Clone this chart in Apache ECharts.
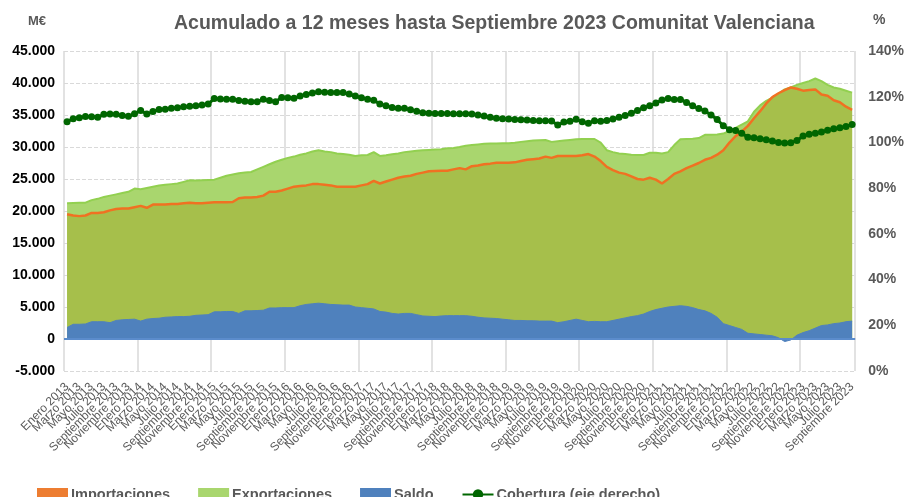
<!DOCTYPE html>
<html>
<head>
<meta charset="utf-8">
<script src="https://cdn.jsdelivr.net/npm/echarts@6/dist/echarts.min.js"></script>
<style>
  html, body { margin: 0; padding: 0; background: #fff; }
  #main { width: 907px; height: 497px; }
</style>
</head>
<body>
<div id="main"></div>
<script>
// meses y años del eje X
const meses = ["Enero", "Febrero", "Marzo", "Abril", "Mayo", "Junio", "Julio", "Agosto", "Septiembre", "Octubre", "Noviembre", "Diciembre"];
const anios = [2013, 2014, 2015, 2016, 2017, 2018, 2019, 2020, 2021, 2022, 2023];
const ultimoMes = 9; // Septiembre 2023

// M€, acumulado 12 meses
const exportaciones = [
  21200, 21250, 21300, 21300, 21700, 21900, 22200, 22400, 22600, 22800, 23000, 23500,
  23400, 23600, 23800, 24000, 24100, 24200, 24300, 24550, 24800, 24750, 24800, 24850,
  24900, 25200, 25500, 25700, 25900, 26000, 26100, 26500, 26900, 27300, 27700, 28000,
  28300, 28500, 28800, 29000, 29300, 29500, 29300, 29200, 29000, 28900, 28800, 28600,
  28700, 28750, 29200, 28600, 28700, 28850, 29000, 29200, 29300, 29400, 29500, 29550,
  29600, 29650, 29800, 29850, 30000, 30200, 30300, 30400, 30500, 30550, 30550, 30600,
  30600, 30650, 30800, 30900, 31000, 31050, 31100, 30800, 30900, 31000, 31100, 31200,
  31250, 31250, 31250, 30700, 29500, 29200, 29000, 28900, 28800, 28750, 28750, 29100,
  29100, 29000, 29200, 30300, 31200, 31250, 31300, 31400, 31900, 31900, 31950, 32100,
  32500, 33000, 33500, 34000, 35500, 36500, 37200, 37700, 38300, 39000, 39300, 39700,
  40000, 40300, 40700, 40300, 39700, 39300, 39100, 38800, 38500
];
const importaciones = [
  19500, 19300, 19200, 19300, 19700, 19700, 19800, 20100, 20300, 20400, 20400, 20600,
  20800, 20500, 21000, 21000, 21000, 21100, 21100, 21200, 21300, 21200, 21200, 21300,
  21350, 21350, 21350, 21400, 22000, 22100, 22100, 22200, 22400, 23000, 23000, 23200,
  23500, 23800, 23900, 24000, 24200, 24200, 24100, 24000, 23800, 23800, 23800, 23800,
  24000, 24200, 24700, 24300, 24600, 24900, 25200, 25400, 25500, 25800, 26000, 26200,
  26250, 26300, 26300, 26500, 26700, 26500, 27000, 27100, 27300, 27400, 27550, 27550,
  27550, 27600, 27800, 28000, 28100, 28200, 28500, 28300, 28600, 28600, 28600, 28600,
  28700, 28900, 28500, 27800, 26900, 26400, 26000, 25800, 25400, 25000, 24900, 25200,
  24900, 24300, 25000, 25800, 26200, 26700, 27100, 27500, 28000, 28300, 28800, 29500,
  30700, 31700, 32400, 33300, 34500, 35600, 36800, 37800, 38400, 38900, 39300, 39100,
  38800, 38900, 39000, 38200, 38000, 37300, 37000, 36300, 35800
];
const saldo = [
  1800, 2300, 2300, 2350, 2700, 2700, 2700, 2550, 2900, 3000, 3050, 3100,
  2800, 3100, 3200, 3250, 3400, 3450, 3500, 3500, 3550, 3700, 3750, 3800,
  4250, 4250, 4300, 4300, 4000, 4400, 4400, 4450, 4500, 4850, 4850, 4900,
  4900, 4900, 5200, 5400, 5500, 5600, 5500, 5400, 5350, 5300, 5300, 5000,
  4900, 4800, 4700, 4300, 4200, 4000, 3900, 4000, 4000, 3800, 3600, 3550,
  3500, 3600, 3650, 3650, 3650, 3650, 3550, 3400, 3300, 3250, 3200, 3100,
  3000, 2900, 2900, 2850, 2850, 2800, 2800, 2800, 2550, 2700, 2900, 3100,
  2900, 2700, 2750, 2700, 2700, 2900, 3100, 3300, 3500, 3650, 3900, 4300,
  4600, 4800, 5000, 5100, 5200, 5100, 4900, 4600, 4400, 4000, 3400, 2400,
  2100, 1800, 1500, 900, 800, 700, 600, 500, 200, -400, -150, 600,
  1000, 1300, 1700, 2100, 2200, 2400, 2500, 2700, 2800
];
// %, eje derecho
const cobertura = [
  109.1, 110.4, 110.8, 111.3, 111.2, 111.0, 112.3, 112.4, 112.3, 111.8, 111.5, 112.5,
  114.0, 112.4, 113.5, 114.4, 114.5, 114.9, 115.2, 115.6, 115.8, 116.0, 116.4, 116.8,
  119.2, 119.0, 118.9, 118.9, 118.3, 118.0, 117.8, 117.8, 118.9, 118.3, 117.8, 119.7,
  119.5, 119.3, 120.3, 121.0, 121.6, 122.2, 122.0, 121.8, 121.8, 121.8, 121.2, 120.3,
  119.6, 118.9, 118.5, 116.8, 116.0, 115.3, 115.0, 114.9, 114.3, 113.6, 113.0, 112.8,
  112.7, 112.7, 112.7, 112.6, 112.5, 112.5, 112.4, 112.0, 111.6, 111.0, 110.6, 110.4,
  110.2, 110.0, 109.9, 109.8, 109.6, 109.5, 109.5, 109.4, 107.6, 108.9, 109.3, 110.1,
  109.0, 108.4, 109.5, 109.3, 109.6, 110.3, 111.0, 111.8, 112.8, 114.0, 115.2, 116.0,
  117.2, 118.6, 119.2, 118.8, 118.8, 117.5, 116.0, 114.8, 113.8, 112.0, 110.0, 107.3,
  105.6, 105.2, 104.0, 102.3, 102.0, 101.6, 101.2, 100.6, 100.0, 99.7, 99.9, 100.8,
  102.8, 103.6, 104.0, 104.6, 105.3, 106.0, 106.4, 107.0, 107.8
];

let categorias = [];
anios.forEach((a) => {
    meses.forEach((m, i) => {
        if (a < 2023 || i < ultimoMes) categorias.push(m + " " + a);
    });
});

const FONT = "'Liberation Sans', Arial, sans-serif";
const GRIS = "#595959";

function miles(v) {
    let s = Math.abs(v).toString().replace(/\B(?=(\d{3})+(?!\d))/g, ".");
    return (v < 0 ? "-" : "") + s;
}

let chart = echarts.init(document.getElementById("main"));
let option = {
    animation: false,
    title: {
        text: "Acumulado a 12 meses hasta Septiembre 2023 Comunitat Valenciana",
        left: 169,
        top: 9,
        textStyle: {fontFamily: FONT, fontSize: 19.5, fontWeight: "bold", color: GRIS}
    },
    graphic: [
        {type: "text", left: 28, top: 15, style: {text: "M€", font: "bold 13px " + FONT, fill: GRIS}},
        {type: "text", left: 873, top: 13, style: {text: "%", font: "bold 14px " + FONT, fill: GRIS}}
    ],
    grid: {left: 64, right: 47, top: 51, bottom: 126},
    legend: {
        left: 32,
        top: 482,
        itemWidth: 31,
        itemHeight: 13,
        itemGap: 28,
        textStyle: {fontFamily: FONT, fontSize: 14.5, fontWeight: "bold", color: GRIS, padding: [0, 0, 0, -2]},
        data: [
            {name: "Importaciones", icon: "rect", itemStyle: {color: "#ed7d31"}},
            {name: "Exportaciones", icon: "rect", itemStyle: {color: "#a9d66e"}},
            {name: "Saldo", icon: "rect", itemStyle: {color: "#4f81bd"}},
            {name: "Cobertura (eje derecho)"}
        ]
    },
    xAxis: {
        type: "category",
        data: categorias,
        boundaryGap: true,
        axisLine: {show: false},
        axisTick: {show: false},
        splitLine: {
            show: true,
            interval: (i) => i % 12 === 0,
            lineStyle: {color: "#d9d9d9", width: 1.5}
        },
        axisLabel: {
            // una etiqueta de cada dos meses
            interval: 0,
            formatter: (v, i) => (i % 2 === 0 ? v : ""),
            rotate: 45,
            margin: 14,
            fontFamily: FONT,
            fontSize: 12,
            color: GRIS
        }
    },
    yAxis: [
        {
            type: "value",
            min: -5000,
            max: 45000,
            interval: 5000,
            axisLine: {show: false},
            axisTick: {show: false},
            splitLine: {lineStyle: {color: "#d9d9d9", type: "dashed"}},
            axisLabel: {
                margin: 9,
                fontFamily: FONT,
                fontSize: 14,
                fontWeight: "bold",
                color: "#000",
                formatter: miles
            }
        },
        {
            type: "value",
            min: 0,
            max: 140,
            interval: 20,
            axisLine: {show: false},
            axisTick: {show: false},
            splitLine: {show: false},
            axisLabel: {
                margin: 13,
                fontFamily: FONT,
                fontSize: 14,
                fontWeight: "bold",
                color: GRIS,
                formatter: "{value}%"
            }
        }
    ],
    series: [
        {
            name: "Exportaciones",
            type: "line",
            data: exportaciones,
            showSymbol: false,
            itemStyle: {color: "#a9d66e"},
            lineStyle: {color: "#92d050", width: 2},
            areaStyle: {color: "#a9d66e", opacity: 1}
        },
        {
            name: "Importaciones",
            type: "line",
            data: importaciones,
            showSymbol: false,
            itemStyle: {color: "#ed7d31"},
            lineStyle: {color: "#f07122", width: 2.5},
            areaStyle: {color: "#a6bf4b", opacity: 1}
        },
        {
            name: "Saldo",
            type: "line",
            data: saldo,
            showSymbol: false,
            itemStyle: {color: "#4f81bd"},
            lineStyle: {color: "#4f81bd", width: 1},
            areaStyle: {color: "#4f81bd", opacity: 1},
            markLine: {
                silent: true,
                symbol: "none",
                label: {show: false},
                lineStyle: {color: "#5b8ccc", type: "solid", width: 2},
                data: [{yAxis: 0}]
            }
        },
        {
            name: "Cobertura (eje derecho)",
            type: "line",
            yAxisIndex: 1,
            data: cobertura,
            symbol: "circle",
            symbolSize: 7,
            showAllSymbol: true,
            itemStyle: {color: "#006600"},
            lineStyle: {color: "#006600", width: 3},
            z: 5
        }
    ]
};
chart.setOption(option);
</script>
</body>
</html>
